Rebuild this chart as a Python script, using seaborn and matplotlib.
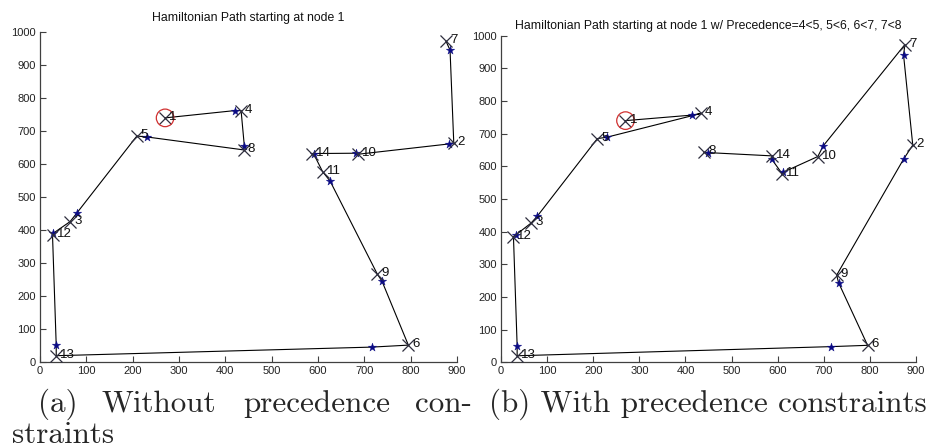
import numpy as np
import pandas as pd
import matplotlib
matplotlib.use("Agg")
import matplotlib.pyplot as plt
import seaborn as sns

# ---- data ----
node_ids = [1, 2, 3, 4, 5, 6, 7, 8, 9, 10, 11, 12, 13, 14]
node_x = [270, 893, 65, 434, 209, 795, 876, 440, 728, 687, 610, 27, 35, 588]
node_y = [740, 665, 426, 762, 685, 52, 973, 643, 267, 630, 577, 385, 20, 632]

# star points (per node 2..14) for each panel
star_ids = [2, 3, 4, 5, 6, 7, 8, 9, 10, 11, 12, 13, 14]
star_x_a = [882, 79, 420, 232, 716, 885, 441, 738, 681, 626, 29, 35, 591]
star_y_a = [661, 451, 762, 682, 46, 945, 655, 246, 633, 549, 391, 52, 630]
star_x_b = [873, 79, 415, 229, 716, 873, 450, 732, 699, 612, 32, 35, 587]
star_y_b = [622, 448, 757, 689, 48, 941, 642, 244, 663, 582, 390, 51, 622]

tour_a = [1, 4, 8, 5, 3, 12, 13, 6, 9, 11, 14, 10, 2, 7]
tour_b = [1, 4, 5, 3, 12, 13, 6, 9, 2, 7, 10, 11, 14, 8]

title_a = "Hamiltonian Path starting at node 1"
title_b = "Hamiltonian Path starting at node 1 w/ Precedence=4<5, 5<6, 6<7, 7<8"
x_ticks = [0, 100, 200, 300, 400, 500, 600, 700, 800, 900]
y_ticks = [0, 100, 200, 300, 400, 500, 600, 700, 800, 900, 1000]

sns.set_theme(style="white")
plt.rcParams["font.family"] = ["Liberation Sans", "DejaVu Sans"]

fig = plt.figure(figsize=(9.28, 4.48), dpi=100)
ax_a = fig.add_axes([40 / 928, 1 - 362.3 / 448, 417 / 928, (362.3 - 32) / 448])
ax_b = fig.add_axes([501 / 928, 1 - 362.3 / 448, 415 / 928, (362.3 - 35.7) / 448])

nodes = pd.DataFrame({"id": node_ids, "x": node_x, "y": node_y}).set_index("id")

AXC = "#404040"
XC = "#2e2e3e"
SC = "#0b0b85"


def draw(ax, tour, sx, sy, title, pad):
    stars = pd.DataFrame({"id": star_ids, "x": sx, "y": sy}).set_index("id")
    px, py = [nodes.loc[tour[0], "x"]], [nodes.loc[tour[0], "y"]]
    for n in tour[1:]:
        px += [stars.loc[n, "x"], nodes.loc[n, "x"]]
        py += [stars.loc[n, "y"], nodes.loc[n, "y"]]
    path = pd.DataFrame({"x": px, "y": py, "o": range(len(px))})
    sns.lineplot(data=path, x="x", y="y", sort=False, estimator=None,
                 color="black", lw=0.8, ax=ax)
    sns.scatterplot(data=stars, x="x", y="y", marker="*", s=40,
                    color=SC, edgecolor=SC, linewidth=0.3, ax=ax, zorder=3)
    sns.scatterplot(data=nodes, x="x", y="y", marker="x", s=75,
                    color=XC, linewidth=0.9, ax=ax, zorder=4)
    start = tour[0]
    ax.scatter([nodes.loc[start, "x"]], [nodes.loc[start, "y"]], s=160,
               facecolors="none", edgecolors="#d03030", linewidths=0.9, zorder=5)
    for nid, r in nodes.iterrows():
        ax.annotate(str(nid), (r["x"], r["y"]), xytext=(4, 1),
                    textcoords="offset pixels", ha="left", va="center",
                    fontsize=9.5, color="#111111", zorder=6)
    ax.set_xlim(0, 900)
    ax.set_ylim(0, 1000)
    ax.set_xticks(x_ticks)
    ax.set_yticks(y_ticks)
    ax.set_xlabel("")
    ax.set_ylabel("")
    ax.set_title(title, fontsize=8.8, pad=pad, color="#111111")
    for s in ["top", "right"]:
        ax.spines[s].set_visible(False)
    for s in ["left", "bottom"]:
        ax.spines[s].set_color(AXC)
        ax.spines[s].set_linewidth(0.9)
    ax.tick_params(direction="in", length=4, width=0.8, color=AXC,
                   labelsize=8, labelcolor="#222222", pad=3,
                   bottom=True, left=True)
    ax.patch.set_alpha(0)


draw(ax_a, tour_a, star_x_a, star_y_a, title_a, 8)
draw(ax_b, tour_b, star_x_b, star_y_b, title_b, 5)

cap_kw = dict(fontsize=22.4, family=["cmr10", "DejaVu Serif"], va="baseline", ha="left")
for word, xpx in [("(a)", 38), ("Without", 102), ("precedence", 243), ("con-", 415)]:
    fig.text(xpx / 928, 1 - 411.5 / 448, word, **cap_kw)
fig.text(12 / 928, 1 - 443 / 448, "straints", **cap_kw)
fig.text(489 / 928, 1 - 411.5 / 448, "(b) With precedence constraints", **cap_kw)

fig.savefig("out.png", dpi=100)
